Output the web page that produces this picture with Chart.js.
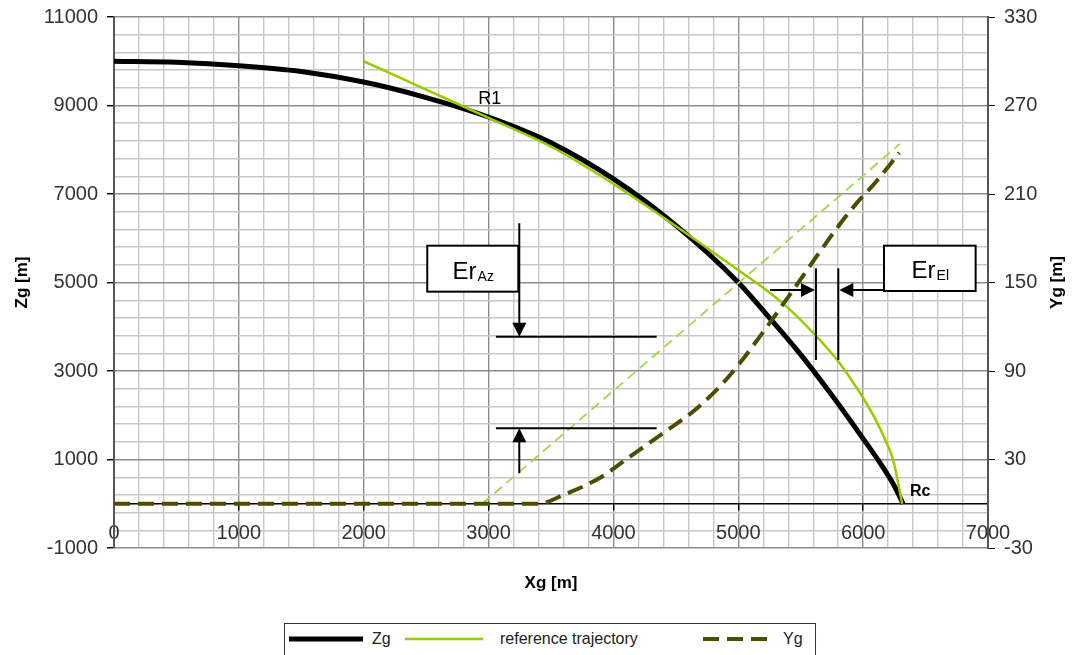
<!DOCTYPE html>
<html>
<head>
<meta charset="utf-8">
<script src="https://cdn.jsdelivr.net/npm/chart.js@4.4.1/dist/chart.umd.min.js"></script>
<style>
  body { margin: 0; background: #fff; }
  #wrap { position: relative; width: 1072px; height: 655px; overflow: hidden; background: #fff; }
  #legend {
    position: absolute; left: 284px; top: 623px; width: 532px; height: 44px;
    border: 1.5px solid #333; background: #fff; box-sizing: border-box;
    font-family: "Liberation Sans", Arial, sans-serif; color: #222;
  }
  .item { position: absolute; top: 2px; height: 26px; display: flex; align-items: center; }
  .item svg { display: block; }
</style>
</head>
<body>
<div id="wrap">
  <canvas id="chart" width="1072" height="655"></canvas>
  <div id="legend"></div>
</div>
<script>
// Zg (black)
const xgZg = [0, 500, 1000, 1500, 2000, 2500, 3000, 3500, 4000, 4500, 5000, 5250, 5500, 5750, 6000, 6150, 6250, 6320];
const zgValues = [10000, 9975, 9900, 9770, 9530, 9180, 8740, 8160, 7340, 6290, 5000, 4200, 3370, 2450, 1470, 860, 400, 0];

// reference trajectory (Zg)
const xgRef = [2000, 2500, 3000, 3500, 4000, 4400, 4700, 5000, 5200, 5400, 5600, 5800, 6000, 6100, 6190, 6240, 6295, 6312];
const zgRef = [10000, 9360, 8720, 8070, 7230, 6470, 5880, 5280, 4880, 4420, 3860, 3220, 2390, 1900, 1360, 990, 260, 0];

// Yg (right axis)
const xgYg = [0, 1000, 2000, 3000, 3400, 3600, 3900, 4100, 4400, 4600, 4700, 4800, 4900, 5000, 5230, 5440, 5630, 5800, 5950, 6100, 6290];
const ygValues = [0, 0, 0, 0, 0, 6, 18, 30, 48, 60, 67, 75, 84, 94, 120, 145, 168, 188, 204, 218, 238];

// reference trajectory (Yg)
const xgRefYg = [2950, 6295];
const ygRef = [0, 244];

// tick labels
const xTicks = [0, 1000, 2000, 3000, 4000, 5000, 6000, 7000];
const zTicks = [-1000, 1000, 3000, 5000, 7000, 9000, 11000];
const yTicks = [-30, 30, 90, 150, 210, 270, 330];

const font = '"Liberation Sans", Arial, sans-serif';

function pts(xs, ys) {
    return xs.map((x, i) => ({ x: x, y: ys[i] }));
}

// feste Breite der y-Achsen, ohne Randausgleich für die Beschriftung
function fixWidth(w) {
    return (s) => {
        s.width = w;
        s.paddingTop = 0;
        s.paddingBottom = 0;
    };
}

// Texte und Pfeile im Diagramm
const notesPlugin = {
    id: "notes",
    afterDatasetsDraw(chart) {
        const ctx = chart.ctx;
        const sx = chart.scales.x;
        const sz = chart.scales.y;
        const px = (v) => sx.getPixelForValue(v);
        const pz = (v) => sz.getPixelForValue(v);

        ctx.save();
        ctx.strokeStyle = "#000";
        ctx.fillStyle = "#000";
        ctx.lineWidth = 2;

        function line(x1, z1, x2, z2) {
            ctx.beginPath();
            ctx.moveTo(px(x1), pz(z1));
            ctx.lineTo(px(x2), pz(z2));
            ctx.stroke();
        }
        function head(x, z, dir) {
            const tx = px(x), ty = pz(z), l = 14, w = 7;
            ctx.beginPath();
            ctx.moveTo(tx, ty);
            if (dir === "down") { ctx.lineTo(tx - w, ty - l); ctx.lineTo(tx + w, ty - l); }
            if (dir === "up") { ctx.lineTo(tx - w, ty + l); ctx.lineTo(tx + w, ty + l); }
            if (dir === "left") { ctx.lineTo(tx + l, ty - w); ctx.lineTo(tx + l, ty + w); }
            if (dir === "right") { ctx.lineTo(tx - l, ty - w); ctx.lineTo(tx - l, ty + w); }
            ctx.closePath();
            ctx.fill();
        }
        function box(x1, z1, x2, z2, sub) {
            const l = px(x1), t = pz(z1), r = px(x2), b = pz(z2);
            ctx.fillStyle = "#fff";
            ctx.fillRect(l, t, r - l, b - t);
            ctx.lineWidth = 2;
            ctx.strokeRect(l, t, r - l, b - t);
            ctx.fillStyle = "#000";
            ctx.textBaseline = "alphabetic";
            ctx.textAlign = "left";
            ctx.font = "24px " + font;
            const w1 = ctx.measureText("Er").width;
            ctx.font = "14px " + font;
            const w2 = ctx.measureText(sub).width;
            const x0 = (l + r) / 2 - (w1 + w2) / 2;
            const base = (t + b) / 2 + 10;
            ctx.font = "24px " + font;
            ctx.fillText("Er", x0, base);
            ctx.font = "14px " + font;
            ctx.fillText(sub, x0 + w1 + 1, base + 2);
        }

        // Er Az
        line(3059, 3775, 4346, 3775);
        line(3059, 1705, 4346, 1705);
        line(3246, 6338, 3246, 3900);
        head(3246, 3775, "down");
        line(3246, 688, 3246, 1600);
        head(3246, 1705, "up");
        box(2509, 5832, 3238, 4793, "Az");

        // Er El
        ctx.lineWidth = 2;
        line(5622, 5321, 5622, 3249);
        line(5801, 5321, 5801, 3249);
        line(5254, 4831, 5520, 4831);
        head(5614, 4831, "right");
        line(5900, 4831, 6167, 4831);
        head(5809, 4831, "left");
        box(6167, 5832, 6901, 4808, "El");

        // R1, Rc
        ctx.fillStyle = "#000";
        ctx.textBaseline = "middle";
        ctx.textAlign = "center";
        ctx.font = "18px " + font;
        ctx.fillText("R1", px(3010), pz(9150));
        ctx.textAlign = "left";
        ctx.font = "bold 16px " + font;
        ctx.fillText("Rc", px(6375), pz(265));
        ctx.restore();
    },
    afterDraw(chart) {
        const ctx = chart.ctx;
        const a = chart.chartArea;
        ctx.save();
        ctx.font = "bold 17px " + font;
        ctx.fillStyle = "#000";
        ctx.textAlign = "center";
        ctx.textBaseline = "middle";
        // Titel der x-Achse unter dem Diagramm
        ctx.fillText(chart.options.scales.x.title.text, (a.left + a.right) / 2, a.bottom + 35);
        // Titel der rechten Achse, von unten nach oben gelesen
        ctx.translate(chart.width - 15, (a.top + a.bottom) / 2);
        ctx.rotate(-Math.PI / 2);
        ctx.fillText(chart.options.scales.y2.title.text, 0, 0);
        ctx.restore();
    }
};

const chart = new Chart(document.getElementById("chart"), {
    type: "line",
    data: {
        datasets: [
            {
                label: "Zg",
                data: pts(xgZg, zgValues),
                borderColor: "#000",
                borderWidth: 5,
                yAxisID: "y",
                order: 4
            },
            {
                label: "reference trajectory",
                data: pts(xgRef, zgRef),
                borderColor: "#99cc00",
                borderWidth: 2.5,
                yAxisID: "y",
                order: 2
            },
            {
                label: "Yg",
                data: pts(xgYg, ygValues),
                borderColor: "#4d4d00",
                borderWidth: 4,
                borderDash: [16, 8],
                yAxisID: "y2",
                order: 1
            },
            {
                label: "",
                data: pts(xgRefYg, ygRef),
                borderColor: "#a5d64c",
                borderWidth: 1.8,
                borderDash: [10, 6],
                yAxisID: "y2",
                order: 3
            }
        ]
    },
    options: {
        responsive: false,
        animation: false,
        devicePixelRatio: 1,
        layout: { padding: { top: 17, left: 0, right: 0, bottom: 107 } },
        elements: {
            point: { radius: 0 },
            line: { cubicInterpolationMode: "monotone", fill: false }
        },
        plugins: { legend: { display: false }, tooltip: { enabled: false } },
        scales: {
            x: {
                type: "linear",
                position: { y: 0 },
                min: 0,
                max: 7000,
                ticks: {
                    stepSize: 200,
                    autoSkip: false,
                    maxRotation: 0,
                    padding: 12,
                    color: "#333",
                    font: { family: font, size: 20 },
                    callback: (v) => (xTicks.includes(v) ? String(v) : "")
                },
                grid: {
                    color: (c) => (xTicks.includes(c.tick.value) ? "#8c8c8c" : "#c8c8c8"),
                    lineWidth: 1.4,
                    tickLength: 6,
                    tickColor: (c) => (xTicks.includes(c.tick.value) ? "#000" : "rgba(0,0,0,0)")
                },
                border: { display: true, color: "#000", width: 1.5 },
                title: { display: false, text: "Xg [m]" }
            },
            y: {
                type: "linear",
                position: "left",
                min: -1000,
                max: 11000,
                afterFit: fixWidth(114),
                ticks: {
                    stepSize: 400,
                    autoSkip: false,
                    padding: 9,
                    color: "#333",
                    font: { family: font, size: 20 },
                    callback: (v) => (zTicks.includes(v) ? String(v) : "")
                },
                grid: {
                    color: (c) => (zTicks.includes(c.tick.value) ? "#8c8c8c" : "#c8c8c8"),
                    lineWidth: 1.4,
                    tickLength: 7,
                    tickColor: (c) => (zTicks.includes(c.tick.value) ? "#000" : "rgba(0,0,0,0)")
                },
                border: { display: true, color: "#555", width: 2 },
                title: {
                    display: true,
                    text: "Zg [m]",
                    color: "#000",
                    font: { family: font, size: 17, weight: "bold" },
                    padding: { top: 12, bottom: 0 }
                }
            },
            y2: {
                type: "linear",
                position: "right",
                min: -30,
                max: 330,
                afterFit: fixWidth(84),
                ticks: {
                    stepSize: 60,
                    padding: 9,
                    color: "#333",
                    font: { family: font, size: 20 },
                    callback: (v) => (yTicks.includes(v) ? String(v) : "")
                },
                grid: { drawOnChartArea: false, tickLength: 7, tickColor: "#000" },
                border: { display: true, color: "#555", width: 2 },
                title: { display: false, text: "Yg [m]" }
            }
        }
    },
    plugins: [notesPlugin]
});

// HTML-Legende
const legendSlots = [
    { left: 4, sample: 74, gap: 9, font: "19px" },
    { left: 120, sample: 78, gap: 17, font: "bold 14px" },
    { left: 418, sample: 70, gap: 10, font: "19px" }
];
let legendHtml = "";
chart.data.datasets.filter((d) => d.label).forEach((d, i) => {
    const s = legendSlots[i];
    const dash = d.borderDash ? d.borderDash.join(" ") : "none";
    legendHtml += `
        <div class="item" style="left:${s.left}px">
            <svg width="${s.sample}" height="10">
                <line x1="0" y1="5" x2="${s.sample}" y2="5" stroke="${d.borderColor}"
                      stroke-width="${d.borderWidth}" stroke-dasharray="${dash}" />
            </svg>
            <span style="margin-left:${s.gap}px;font:${s.font} ${font}">${d.label}</span>
        </div>`;
});
document.getElementById("legend").innerHTML = legendHtml;
</script>
</body>
</html>
